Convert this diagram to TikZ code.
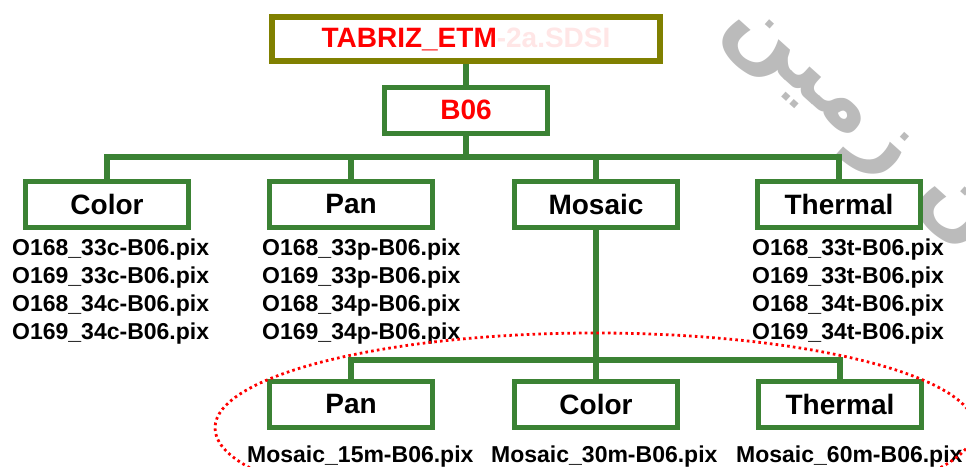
\documentclass[tikz,border=0pt]{standalone}
\usepackage{fontspec}
\setmainfont{Liberation Sans}
\newfontfamily\arabicfont[Script=Arabic]{DejaVu Sans}
\TeXXeTstate=1
\usetikzlibrary{positioning, calc}
\definecolor{TreeGreen}{HTML}{3B8234}
\definecolor{TitleOlive}{HTML}{808000}
\definecolor{FadePink}{HTML}{FFE6E6}
\definecolor{MarkGray}{HTML}{BBBBBB}

\tikzset{
  titlebox/.style={draw=TitleOlive, line width=6pt, fill=white,
    minimum width=388pt, minimum height=44pt, inner sep=0pt,
    font=\fontsize{28}{32}\selectfont\bfseries},
  treebox/.style={draw=TreeGreen, line width=5pt, fill=white,
    minimum width=163pt, minimum height=46pt, inner sep=0pt,
    font=\fontsize{28}{34}\selectfont\bfseries},
  link/.style={draw=TreeGreen, line width=5.5pt},
  filelist/.style={anchor=north west, inner sep=0pt, align=left,
    font=\fontsize{23}{28}\selectfont\bfseries},
  mosaicfile/.style={anchor=base west, inner sep=0pt,
    font=\fontsize{23}{28}\selectfont\bfseries},
  watermark/.style={text=MarkGray, rotate=-42, inner sep=0pt,
    font=\arabicfont\bfseries\fontsize{90}{100}\selectfont}
}

\begin{document}
\begin{tikzpicture}[x=1pt, y=-1pt]
  \useasboundingbox (0,0) rectangle (966,466);
  \clip (0,0) rectangle (966,466);

  % watermark
  \node[watermark] (mark) at (855,130) {\beginR ن زمین\endR};

  % connectors
  \coordinate (hub) at (466,157);
  \coordinate (mhub) at (596,360);

  % top of the tree
  \node[titlebox] (title) at (466,39)
    {{\color{red}TABRIZ\_ETM}{\color{FadePink}-2a.SDSI}};
  \node[treebox, text=red] (b06) at (466,110) {B06};
  \draw[link] (title) -- (b06);

  % bands
  \node[treebox] (color)   at (107,204) {Color};
  \node[treebox] (pan)     at (351,204) {Pan};
  \node[treebox] (mosaic)  at (596,204) {Mosaic};
  \node[treebox] (thermal) at (839,204) {Thermal};
  \foreach \band in {color, pan, mosaic, thermal}
    \draw[link] (b06) -- (hub) -| (\band);

  % mosaics
  \node[treebox] (mpan)     at (351,404) {Pan};
  \node[treebox] (mcolor)   at (596,404) {Color};
  \node[treebox] (mthermal) at (840,404) {Thermal};
  \foreach \band in {mpan, mcolor, mthermal}
    \draw[link] (mosaic) -- (mhub) -| (\band);

  % file names
  \node[filelist] (colorfiles) at (12,239)
    {O168\_33c-B06.pix\\O169\_33c-B06.pix\\O168\_34c-B06.pix\\O169\_34c-B06.pix};
  \node[filelist] (panfiles) at (262,239)
    {O168\_33p-B06.pix\\O169\_33p-B06.pix\\O168\_34p-B06.pix\\O169\_34p-B06.pix};
  \node[filelist] (thermalfiles) at (752,239)
    {O168\_33t-B06.pix\\O169\_33t-B06.pix\\O168\_34t-B06.pix\\O169\_34t-B06.pix};
  \node[mosaicfile] (m15) at (247,462) {Mosaic\_15m-B06.pix};
  \node[mosaicfile] (m30) at (491,462) {Mosaic\_30m-B06.pix};
  \node[mosaicfile] (m60) at (736,462) {Mosaic\_60m-B06.pix};

  % selection
  \draw[red, line width=2.8pt, dash pattern=on 2.6pt off 3.2pt]
    (595,428) ellipse [x radius=380, y radius=95];
\end{tikzpicture}
\end{document}
